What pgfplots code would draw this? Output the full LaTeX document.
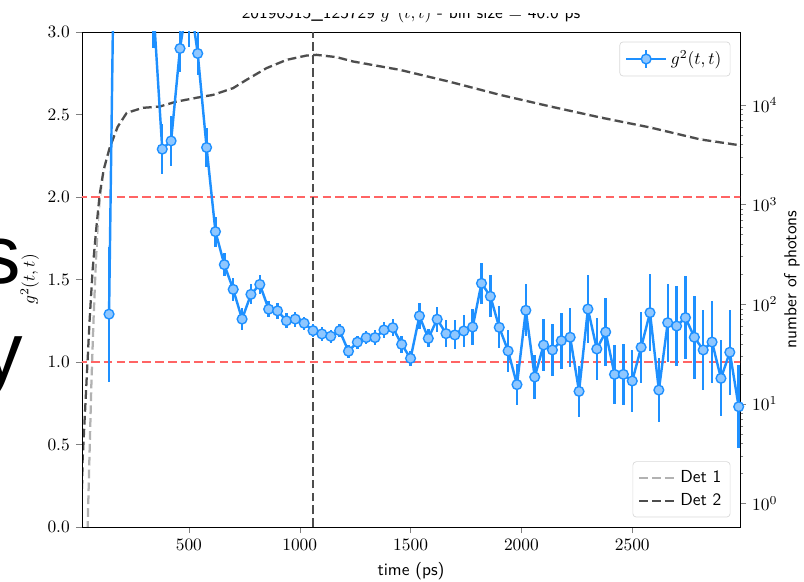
\documentclass[border=0pt]{standalone}
\usepackage{pgfplots}
\pgfplotsset{compat=1.18}
\usepackage{pgfplotstable}
\usepackage{fontspec}
\newfontfamily\arialf{Liberation Sans}
\definecolor{dodger}{RGB}{30,144,255}
\definecolor{dodgerl}{RGB}{143,199,255}
\definecolor{redl}{RGB}{255,100,100}
\definecolor{detone}{RGB}{178,178,178}
\definecolor{dettwo}{RGB}{77,77,77}

\pgfplotstableread{
t g e
140 1.29 0.41
180 5.3 0.8
220 5.0 0.8
260 4.6 0.7
300 4.0 0.5
340 3.15 0.25
380 2.29 0.15
420 2.34 0.15
460 2.90 0.14
500 3.25 0.34
540 2.87 0.13
580 2.30 0.12
620 1.79 0.09
660 1.59 0.07
700 1.44 0.07
740 1.26 0.065
780 1.41 0.06
820 1.47 0.06
860 1.32 0.05
900 1.31 0.05
940 1.25 0.045
980 1.26 0.045
1020 1.235 0.04
1060 1.19 0.04
1100 1.17 0.04
1140 1.156 0.04
1180 1.19 0.04
1220 1.065 0.04
1260 1.12 0.04
1300 1.148 0.04
1340 1.148 0.045
1380 1.194 0.05
1420 1.208 0.05
1460 1.107 0.05
1500 1.022 0.045
1540 1.279 0.076
1580 1.143 0.055
1620 1.259 0.075
1660 1.172 0.08
1700 1.164 0.088
1740 1.188 0.095
1780 1.212 0.108
1820 1.477 0.125
1860 1.398 0.128
1900 1.210 0.128
1940 1.067 0.125
1980 0.863 0.124
2020 1.313 0.157
2060 0.909 0.134
2100 1.103 0.159
2140 1.073 0.16
2180 1.129 0.169
2220 1.150 0.18
2260 0.822 0.155
2300 1.321 0.206
2340 1.079 0.187
2380 1.182 0.204
2420 0.925 0.179
2460 0.925 0.184
2500 0.885 0.189
2540 1.089 0.215
2580 1.299 0.235
2620 0.830 0.192
2660 1.238 0.235
2700 1.218 0.242
2740 1.269 0.253
2780 1.150 0.25
2820 1.073 0.242
2860 1.121 0.25
2900 0.901 0.231
2940 1.059 0.258
2980 0.729 0.25
}\gdata

\pgfplotstableread{
t N
18 1.4
20.8 2.73
38.8 17.4
52.4 69.6
65.9 221
81.7 557
97.5 1250
115.6 2230
142.7 3710
178.8 6030
219.5 8320
291.7 9350
368.5 9640
444 10800
549 11970
609 12620
699.5 14750
760 17870
850 23400
940.7 28350
1031 31330
1076 31840
1166 30200
1241 27300
1452 22500
1678 17060
1904 12620
2130 9660
2356 7490
2581 5940
2807 4510
2988 3930
}\dettwodata

\pgfplotstableread{
t N
40 0.3
43.4 0.58
52.4 3.4
60 15
70 70
80 250
90 700
100 1250
115.6 2230
142.7 3710
178.8 6030
219.5 8320
291.7 9350
368.5 9640
444 10800
549 11970
609 12620
699.5 14750
760 17870
850 23400
940.7 28350
1031 31330
1076 31840
1166 30200
1241 27300
1452 22500
1678 17060
1904 12620
2130 9660
2356 7490
2581 5940
2807 4510
2988 3930
}\detonedata

\begin{document}
\begin{tikzpicture}
% right axis: photon counts
\begin{axis}[
  at={(0,0)}, anchor=south west,
  scale only axis, width=378.35pt, height=284.63pt,
  xmin=18, xmax=2986, ymode=log, ymin=0.58, ymax=54000,
  axis x line=none, axis y line*=right,
  tick align=outside, major tick length=3.5pt, minor tick length=2pt,
  ytick={1,10,100,1000,10000},
  ylabel={number of photons}, ylabel style={font=\sffamily}, ylabel shift=-3pt,
  legend style={at={(1,0)}, anchor=south east, xshift=-5.5pt, yshift=5.5pt,
    draw=black!15, rounded corners=2pt, font=\sffamily, fill=white,
    row sep=1pt, inner sep=3pt},
  legend cell align=left,
  legend image code/.code={\draw (0pt,0pt) -- (21pt,0pt);},
  clip mode=individual,
]
\addplot[detone, line width=1.3pt, dash pattern=on 5pt off 2.4pt, no marks] table {\detonedata};
\addlegendentry{Det 1}
\addplot[dettwo, line width=1.3pt, dash pattern=on 5pt off 2.4pt, no marks,
  preaction={draw=white, solid, line width=1.3pt}] table {\dettwodata};
\addlegendentry{Det 2}
\end{axis}
% left axis: g2
\begin{axis}[
  at={(0,0)}, anchor=south west,
  scale only axis, width=378.35pt, height=284.63pt,
  xmin=18, xmax=2986, ymin=0, ymax=3,
  xtick={500,1000,1500,2000,2500}, ytick={0,0.5,1,1.5,2,2.5,3},
  xtick pos=left, ytick pos=left,
  tick align=outside, major tick length=3.5pt,
  yticklabel style={/pgf/number format/.cd, fixed, fixed zerofill, precision=1},
  xticklabel style={/pgf/number format/set thousands separator={}},
  xlabel={time (ps)}, xlabel style={font=\sffamily},
  ylabel={$g^2(t,t)$}, ylabel shift=-2pt,
  legend style={at={(1,1)}, anchor=north east, xshift=-5.5pt, yshift=-5.5pt,
    draw=black!15, rounded corners=2pt, fill=white, inner sep=3pt},
  legend image code/.code={
    \draw[dodger, line width=1.4pt] (0pt,0pt) -- (23pt,0pt);
    \draw[dodger, line width=1.4pt] (11.5pt,-5pt) -- (11.5pt,5pt);
    \draw[draw=dodger, fill=dodgerl, line width=0.8pt] (11.5pt,0pt) circle (2.8pt);},
  clip mode=individual,
]
\addplot[redl, line width=1.3pt, dash pattern=on 5pt off 2.4pt, forget plot] coordinates {(0,1) (3000,1)};
\addplot[redl, line width=1.3pt, dash pattern=on 5pt off 2.4pt, forget plot] coordinates {(0,2) (3000,2)};
\addplot[dettwo, line width=1.3pt, dash pattern=on 5pt off 2.4pt, forget plot] coordinates {(1060,0) (1060,3)};
\addplot[dodger, line width=1.4pt, mark=*, mark size=2.8pt,
  mark options={fill=dodgerl, draw=dodger, line width=0.8pt, solid},
  error bars/.cd, y dir=both, y explicit, error mark=none,
  error bar style={line width=1.4pt, dodger}]
  table[x=t, y=g, y error=e] {\gdata};
\addlegendentry{$g^2(t,t)$}
\end{axis}
% title (upper part hidden as in the reference)
\node[anchor=base, font=\sffamily] at (189.2pt,292.1pt) {20190515\_125729 $g^2(t,t)$ - bin size = 40.0 ps};
\fill[white] (-47.15pt,295.55pt) rectangle (415.15pt,303.03pt);
% stray large letters at the left edge
\node[anchor=base west, inner sep=0pt] at (-59.2pt,140.3pt) {\fontsize{47.7pt}{50pt}\arialf s};
\node[anchor=base west, inner sep=0pt] at (-58.1pt,84.5pt) {\fontsize{47.7pt}{50pt}\arialf y};
\pgfresetboundingbox
\path[use as bounding box] (-47.15pt,-31.05pt) rectangle (415.15pt,303.03pt);
\end{tikzpicture}
\end{document}
